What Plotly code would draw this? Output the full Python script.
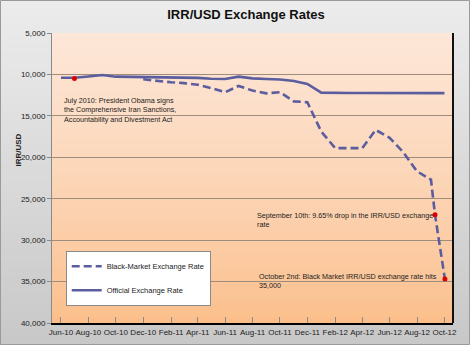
import plotly.graph_objects as go

# ---------------- data ----------------
official_dates = ["2010-06-01", "2010-07-01", "2010-08-01", "2010-09-01", "2010-10-01",
                  "2010-11-01", "2010-12-01", "2011-01-01", "2011-02-01", "2011-03-01",
                  "2011-04-01", "2011-05-01", "2011-06-01", "2011-07-01", "2011-08-01",
                  "2011-09-01", "2011-10-01", "2011-11-01", "2011-12-01", "2012-01-01",
                  "2012-02-01", "2012-03-01", "2012-04-01", "2012-05-01", "2012-06-01",
                  "2012-07-01", "2012-08-01", "2012-09-01", "2012-10-01"]
official_rates = [10400, 10400, 10250, 10070, 10270, 10300, 10300, 10320, 10340, 10360,
                  10420, 10520, 10550, 10270, 10480, 10550, 10620, 10800, 11150, 12200,
                  12250, 12250, 12250, 12260, 12260, 12260, 12260, 12260, 12260]

bm_dates = ["2010-12-01", "2011-01-01", "2011-02-01", "2011-03-01", "2011-04-01",
            "2011-05-01", "2011-06-01", "2011-07-01", "2011-08-01", "2011-09-01",
            "2011-10-01", "2011-11-01", "2011-12-01", "2012-01-01", "2012-02-01",
            "2012-03-01", "2012-04-01", "2012-05-01", "2012-06-01", "2012-07-01",
            "2012-08-01", "2012-09-01", "2012-09-10", "2012-10-02"]
bm_rates = [10590, 10800, 10950, 11050, 11250, 11650, 12150, 11390, 11950, 12280,
            12150, 13250, 13360, 16900, 18900, 18900, 18900, 16700, 17650, 19350,
            21700, 22700, 26950, 34700]

event_dates = ["2010-07-01", "2012-09-10", "2012-10-02"]
event_rates = [10500, 26950, 34700]
event_texts = [
    "July 2010: President Obama signs<br>the Comprehensive Iran Sanctions,<br>Accountability and Divestment Act",
    "September 10th: 9.65% drop in the IRR/USD exchange<br>rate",
    "October 2nd: Black Market IRR/USD exchange rate hits<br>35,000",
]
label_dates = ["2010-06-03", "2011-08-06", "2011-08-10"]
label_rates = [14300, 27550, 34950]

y_ticks = [5000, 10000, 15000, 20000, 25000, 30000, 35000, 40000]

# ---------------- layout constants ----------------
W, H = 470, 345
L, R, T, B = 52, 17, 33, 22
FONT = "Liberation Sans, Arial, sans-serif"
LINE_COLOR = "#5b5d9f"

fig = go.Figure()
fig.add_trace(go.Scatter(x=bm_dates, y=bm_rates, mode="lines",
                         name="Black-Market Exchange Rate", legendgroup="a",
                         line=dict(color=LINE_COLOR, width=2.6, dash="8px,4px")))
fig.add_trace(go.Scatter(x=official_dates, y=official_rates, mode="lines",
                         name="Official Exchange Rate", legendgroup="b",
                         line=dict(color=LINE_COLOR, width=2.6)))
fig.add_trace(go.Scatter(x=event_dates, y=event_rates, mode="markers", showlegend=False,
                         marker=dict(color="#e00000", size=5)))

shapes = []


def lerp(c1, c2, t):
    return "rgb(%d,%d,%d)" % tuple(round(a + (b - a) * t) for a, b in zip(c1, c2))


pw = W - L - R
ph = H - T - B
# paper gradient background
N = 40
x0p, x1p = -L / pw, 1 + R / pw
y0p, y1p = -B / ph, 1 + T / ph
for i in range(N):
    ya = y0p + (y1p - y0p) * i / N
    yb = y0p + (y1p - y0p) * (i + 1) / N + 0.002
    shapes.append(dict(type="rect", xref="paper", yref="paper", x0=x0p, x1=x1p, y0=ya, y1=yb,
                       fillcolor=lerp((200, 200, 200), (236, 236, 236), i / (N - 1)),
                       line=dict(width=0), layer="below"))
# plot area gradient
N2 = 60
for i in range(N2):
    ya = i / N2
    yb = (i + 1) / N2 + 0.002
    t = i / (N2 - 1)
    shapes.append(dict(type="rect", xref="paper", yref="paper", x0=0, x1=1, y0=ya, y1=min(yb, 1),
                       fillcolor=lerp((251, 190, 138), (253, 231, 216), t ** 0.8),
                       line=dict(width=0), layer="below"))
# right plot border & outer frame
shapes.append(dict(type="line", xref="paper", yref="paper", x0=1, x1=1, y0=0, y1=1,
                   line=dict(color="#111111", width=2)))
shapes.append(dict(type="rect", xref="paper", yref="paper", x0=x0p + 0.5 / pw, x1=x1p - 0.5 / pw,
                   y0=y0p + 0.5 / ph, y1=y1p - 0.5 / ph,
                   line=dict(color="#9a9a9a", width=1)))

annotations = []
for d, v, txt in zip(label_dates, label_rates, event_texts):
    annotations.append(dict(x=d, y=v, xref="x", yref="y", text=txt, showarrow=False,
                            xanchor="left", yanchor="middle", align="left",
                            font=dict(family=FONT, size=7.2, color="#222222")))
annotations.append(dict(x=(11 - L) / pw, y=(H - B - 150) / ph, xref="paper", yref="paper",
                        text="<b>IRR/USD</b>", textangle=-90, showarrow=False,
                        font=dict(family=FONT, size=8, color="#222222")))

fig.update_layout(
    width=W, height=H,
    margin=dict(l=L, r=R, t=T, b=B),
    paper_bgcolor="#e4e4e4",
    plot_bgcolor="#fde0cc",
    title=dict(text="<b>IRR/USD Exchange Rates</b>", x=246 / W, xref="container", xanchor="center",
               y=1 - 14 / H, yref="container", yanchor="middle",
               font=dict(family=FONT, size=13, color="#111111")),
    xaxis=dict(type="date", range=["2010-05-12", "2012-10-20"],
               tick0="2010-06-01", dtick="M2", tickformat="%b-%y", tickangle=0,
               ticks="inside", ticklen=6, tickcolor="#8a8a8a", tickwidth=1,
               showgrid=False, showline=True, linecolor="#000000", linewidth=2,
               automargin=False,
               tickfont=dict(family=FONT, size=8, color="#222222"), zeroline=False),
    yaxis=dict(range=[40000, 5000], tickvals=y_ticks, tickformat=",",
               ticks="outside", ticklen=4, tickcolor="#8a8a8a",
               showgrid=True, gridcolor="#9e8c7c", gridwidth=1,
               showline=True, linecolor="#8a8a8a", linewidth=1,
               automargin=False,
               tickfont=dict(family=FONT, size=8, color="#222222"), zeroline=False),
    legend=dict(x=(65.7 - L) / pw, y=(H - B - 250.7) / ph, xanchor="left", yanchor="top",
                bgcolor="#ffffff", bordercolor="#8a8a8a", borderwidth=1,
                traceorder="grouped", tracegroupgap=5, itemwidth=30,
                font=dict(family=FONT, size=7.5, color="#222222")),
    shapes=shapes,
    annotations=annotations,
)

fig.write_html("out.html")
